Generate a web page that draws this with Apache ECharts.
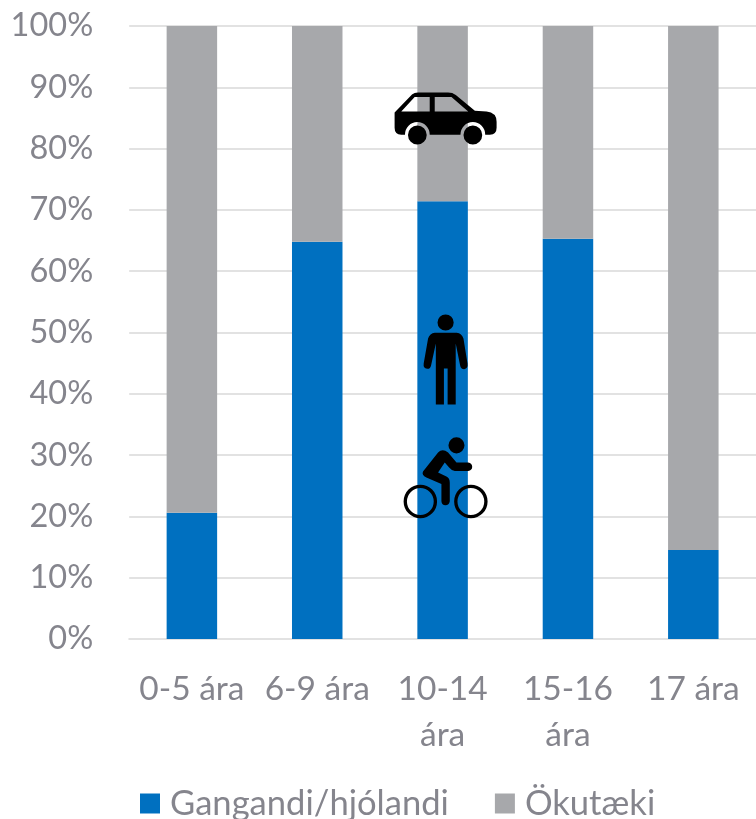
<!DOCTYPE html>
<html>
<head>
<meta charset="utf-8">
<style>html,body{margin:0;padding:0;background:#fff}#main{width:756px;height:819px}</style>
<script src="https://cdn.jsdelivr.net/npm/echarts@6/dist/echarts.min.js"></script>
</head>
<body>
<div id="main"></div>
<script>
var categories = ['0-5 ára', '6-9 ára', '10-14\nára', '15-16\nára', '17 ára'];
var gangandi = [20.6, 64.8, 71.4, 65.3, 14.5];
var okutaeki = [79.4, 35.2, 28.6, 34.7, 85.5];

var iconCategory = '10-14\nára';
var carY = 84.9, personY = 45.6, bikeY = 26.3;

var carPath = 'path://M45 125L97 73Q104 67 115 67L205 67Q218 67 228 74L285 120L320 122Q350 125 350 152L350 170Q350 190 330 190L316 190A37 37 0 0 0 242 190L150 190A37 37 0 0 0 76 190L65 190Q45 190 45 170Z' +
    'M65 122L150 122L150 80L105 80Z' +
    'M165 122L265 122L215 80L165 80Z' +
    'M85 191A28 28 0 1 1 141 191A28 28 0 1 1 85 191Z' +
    'M251 191A28 28 0 1 1 307 191A28 28 0 1 1 251 191Z';
var personPath = 'path://M135 98L200 98Q215 100 220 115L232 190Q234 205 222 207Q212 207 210 195L197 130L197 313L173 313L173 205L162 205L162 313L138 313L138 130L124 195Q122 207 112 206Q100 204 102 190L115 115Q120 100 135 98Z' +
    'M143 67A24 24 0 1 1 191 67A24 24 0 1 1 143 67Z';
var bikePath = 'path://M100 515L145 458Q158 445 175 458L200 488L235 488Q247 490 247 501Q247 512 235 513L195 513Q185 512 178 503L165 488L145 518L170 530Q180 535 180 548L180 603Q178 615 167 615Q156 615 155 603L155 552L110 533Q95 525 100 515Z' +
    'M176 437A24 24 0 1 1 224 437A24 24 0 1 1 176 437Z' +
    'M42 604A50 50 0 1 1 142 604A50 50 0 1 1 42 604ZM52 604A40 40 0 1 0 132 604A40 40 0 1 0 52 604Z' +
    'M193 604A50 50 0 1 1 293 604A50 50 0 1 1 193 604ZM203 604A40 40 0 1 0 283 604A40 40 0 1 0 203 604Z';

var textColor = '#85858d';
var chart = echarts.init(document.getElementById('main'));
chart.setOption({
    animation: false,
    textStyle: {fontFamily: 'Lato'},
    grid: {left: 129.2, right: -1.2, top: 26, bottom: 180},
    legend: {
        left: 135,
        top: 781,
        itemWidth: 20,
        itemHeight: 20,
        itemGap: 46,
        icon: 'rect',
        data: ['Gangandi/hjólandi', 'Ökutæki'],
        textStyle: {color: textColor, fontSize: 34.6, fontFamily: 'Lato', padding: [0, 0, 0, 5]}
    },
    xAxis: {
        type: 'category',
        data: categories,
        axisTick: {show: false},
        axisLine: {lineStyle: {color: '#e2e2e2', width: 2}},
        axisLabel: {color: textColor, fontSize: 33.5, margin: 27, lineHeight: 46, interval: 0}
    },
    yAxis: {
        type: 'value',
        min: 0,
        max: 100,
        interval: 10,
        axisLabel: {color: textColor, fontSize: 32.5, margin: 36, formatter: '{value}%'},
        axisLine: {show: false},
        axisTick: {show: false},
        splitLine: {lineStyle: {color: '#e2e2e2', width: 2}}
    },
    series: [
        {name: 'Gangandi/hjólandi', type: 'bar', stack: 'a', barWidth: 50.5, data: gangandi, itemStyle: {color: '#0070c0'}},
        {name: 'Ökutæki', type: 'bar', stack: 'a', barWidth: 50.5, data: okutaeki, itemStyle: {color: '#a7a8ab'}},
        {type: 'scatter', z: 5, symbol: carPath, symbolSize: [102, 52], symbolOffset: [3, 0], itemStyle: {color: '#000', opacity: 1}, data: [[iconCategory, carY]]},
        {type: 'scatter', z: 5, symbol: personPath, symbolSize: [44, 90], symbolOffset: [3, 0], itemStyle: {color: '#000', opacity: 1}, data: [[iconCategory, personY]]},
        {type: 'scatter', z: 5, symbol: bikePath, symbolSize: [84, 81], symbolOffset: [3, 0], itemStyle: {color: '#000', opacity: 1}, data: [[iconCategory, bikeY]]}
    ]
});
</script>
</body>
</html>
